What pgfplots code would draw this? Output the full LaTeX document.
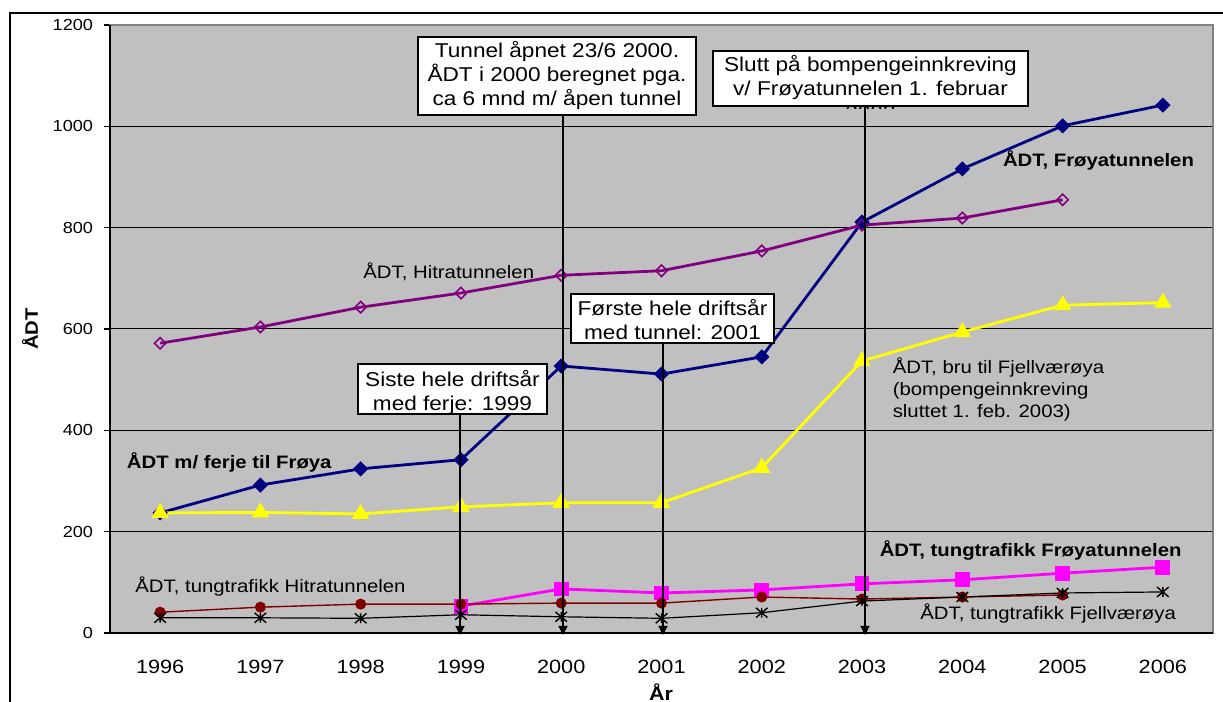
\documentclass[border=0pt]{standalone}
\usepackage{fontspec}
\setmainfont{Liberation Sans}[FakeStretch=1.13]
\usepackage{pgfplots}
\pgfplotsset{compat=1.18}
\usetikzlibrary{arrows.meta}
\definecolor{plotgray}{RGB}{192,192,192}
\definecolor{bordergray}{RGB}{128,128,128}
\definecolor{navyc}{RGB}{0,0,128}
\definecolor{purplec}{RGB}{128,0,128}
\definecolor{yellowc}{RGB}{255,255,0}
\definecolor{magentac}{RGB}{255,0,255}
\definecolor{darkredc}{RGB}{128,0,0}
\newcommand\annfont{\fontsize{10}{12}\selectfont}
\newcommand\lblfont{\fontsize{9}{11}\selectfont}
\pgfdeclareplotmark{xstar}{%
  \pgfpathmoveto{\pgfqpoint{-\pgfplotmarksize}{-0.85\pgfplotmarksize}}%
  \pgfpathlineto{\pgfqpoint{\pgfplotmarksize}{0.85\pgfplotmarksize}}%
  \pgfpathmoveto{\pgfqpoint{-\pgfplotmarksize}{0.85\pgfplotmarksize}}%
  \pgfpathlineto{\pgfqpoint{\pgfplotmarksize}{-0.85\pgfplotmarksize}}%
  \pgfpathmoveto{\pgfqpoint{0pt}{-0.85\pgfplotmarksize}}%
  \pgfpathlineto{\pgfqpoint{0pt}{0.85\pgfplotmarksize}}%
  \pgfusepathqstroke}
\begin{document}
\begin{tikzpicture}
\begin{axis}[
  at={(0pt,0pt)}, anchor=south west,
  scale only axis, width=551.5pt, height=304pt,
  xmin=-0.5, xmax=10.5, ymin=0, ymax=1200,
  xtick={0,1,2,3,4,5,6,7,8,9,10},
  xticklabels={1996,1997,1998,1999,2000,2001,2002,2003,2004,2005,2006},
  ytick={0,200,400,600,800,1000,1200},
  xtick pos=bottom, ytick pos=left,
  ymajorgrids, major grid style={black, line width=0.5pt},
  axis background/.style={fill=plotgray},
  axis line style={draw=bordergray, line width=0.8pt},
  xtick style={draw=none},
  ytick style={black, line width=0.6pt},
  tick align=outside, major tick length=3pt,
  /pgf/number format/assume math mode=true,
  /pgf/number format/1000 sep={},
  xticklabel style={font=\fontsize{9.6}{11}\selectfont, yshift=-7pt},
  yticklabel style={font=\fontsize{8}{10}\selectfont, xshift=-2pt},
]
\addplot[navyc, line width=1.4pt, mark=square*, mark size=2pt, mark options={rotate=45, solid, fill=navyc}]
 coordinates {(0,237)(1,292)(2,324)(3,342)(4,527)(5,511)(6,545)(7,811)(8,916)(9,1001)(10,1042)};
\addplot[purplec, line width=1.4pt, mark=square, mark size=2pt, mark options={rotate=45, solid, line width=0.8pt}]
 coordinates {(0,572)(1,604)(2,643)(3,671)(4,706)(5,715)(6,754)(7,805)(8,819)(9,855)};
\addplot[yellowc, line width=1.4pt, mark=triangle*, mark size=3.6pt, mark options={solid, fill=yellowc}]
 coordinates {(0,237)(1,238)(2,235)(3,249)(4,257)(5,257)(6,326)(7,537)(8,594)(9,647)(10,652)};
\addplot[magentac, line width=1.4pt, mark=square*, mark size=3pt, mark options={solid, fill=magentac}]
 coordinates {(3,53)(4,87)(5,79)(6,85)(7,97)(8,105)(9,118)(10,130)};
\addplot[darkredc, line width=0.7pt, mark=*, mark size=2.4pt, mark options={solid, fill=darkredc}]
 coordinates {(0,41)(1,51)(2,57)(3,57)(4,59)(5,59)(6,71)(7,67)(8,71)(9,75)};
\addplot[black, line width=0.6pt, mark=xstar, mark size=2.9pt, mark options={solid, line width=0.7pt}]
 coordinates {(0,30)(1,30)(2,29)(3,36)(4,32)(5,29)(6,40)(7,63)(8,71)(9,79)(10,81)};
\end{axis}
% black left and bottom axis lines
\draw[black, line width=0.8pt] (0pt,304pt) -- (0pt,0pt) -- (551.5pt,0pt);
% outer frame
\draw[black, line width=1pt] (-50pt,-80pt) -- (-50pt,310.2pt) -- (620pt,310.2pt);
% axis titles
\node[rotate=90, font=\bfseries\fontsize{9}{11}\selectfont] at (-40pt,152pt) {ÅDT};
\node[anchor=north, inner sep=0pt, font=\bfseries\fontsize{9.5}{11}\selectfont] at (275.5pt,-25pt) {År};
% series labels
\node[anchor=base west, inner sep=0pt, font=\lblfont] at (126.5pt,177.3pt) {ÅDT, Hitratunnelen};
\node[anchor=base west, inner sep=0pt, font=\bfseries\lblfont] at (446.3pt,233.2pt) {ÅDT, Frøyatunnelen};
\node[anchor=base west, inner sep=0pt, font=\bfseries\lblfont] at (8.3pt,82.3pt) {ÅDT m/ ferje til Frøya};
\node[anchor=base west, inner sep=0pt, font=\lblfont] at (391.2pt,129.5pt) {ÅDT, bru til Fjellværøya};
\node[anchor=base west, inner sep=0pt, font=\lblfont] at (391.2pt,118.5pt) {(bompengeinnkreving};
\node[anchor=base west, inner sep=0pt, font=\lblfont] at (391.2pt,107.5pt) {sluttet 1. feb. 2003)};
\node[anchor=base west, inner sep=0pt, font=\bfseries\lblfont] at (384.7pt,38.2pt) {ÅDT, tungtrafikk Frøyatunnelen};
\node[anchor=base west, inner sep=0pt, font=\lblfont] at (12.5pt,20.2pt) {ÅDT, tungtrafikk Hitratunnelen};
\node[anchor=base west, inner sep=0pt, font=\lblfont] at (405pt,6.8pt) {ÅDT, tungtrafikk Fjellværøya};
% annotation boxes and arrows
\tikzset{arr/.style={-{Triangle[width=4.5pt,length=4.5pt]}, black, line width=0.6pt}}
\draw[arr] (226.5pt,259pt) -- (226.5pt,-1pt);
\draw[arr] (377.5pt,263.5pt) -- (377.5pt,-1pt);
\draw[arr] (276.5pt,145pt) -- (276.5pt,-1pt);
\draw[arr] (175pt,109.5pt) -- (175pt,-1pt);
\draw[black, line width=0.6pt, fill=white] (154pt,259pt) rectangle (293pt,298pt);
\node[anchor=north, align=center, inner sep=0pt, font=\annfont] at (223.5pt,296pt) {Tunnel åpnet 23/6 2000.\\ÅDT i 2000 beregnet pga.\\ca 6 mnd m/ åpen tunnel};
\draw[black, line width=0.6pt, fill=white] (301.5pt,263.5pt) rectangle (459pt,291pt);
\begin{scope}
\clip (301.5pt,262.3pt) rectangle (459pt,291pt);
\node[anchor=north, align=center, inner sep=0pt, font=\annfont] at (380.25pt,289pt) {Slutt på bompengeinnkreving\\v/ Frøyatunnelen 1. februar\\2003};
\end{scope}
\draw[black, line width=0.6pt, fill=white] (230.5pt,145pt) rectangle (332pt,169.5pt);
\node[anchor=north, align=center, inner sep=0pt, font=\annfont] at (281.25pt,167pt) {Første hele driftsår\\med tunnel: 2001};
\draw[black, line width=0.6pt, fill=white] (124pt,109.5pt) rectangle (218.5pt,134.5pt);
\node[anchor=north, align=center, inner sep=0pt, font=\annfont] at (171.25pt,131.5pt) {Siste hele driftsår\\med ferje: 1999};
\pgfresetboundingbox
\path[use as bounding box] (-55pt,-34.5pt) rectangle (556.5pt,316.5pt);
\end{tikzpicture}
\end{document}
